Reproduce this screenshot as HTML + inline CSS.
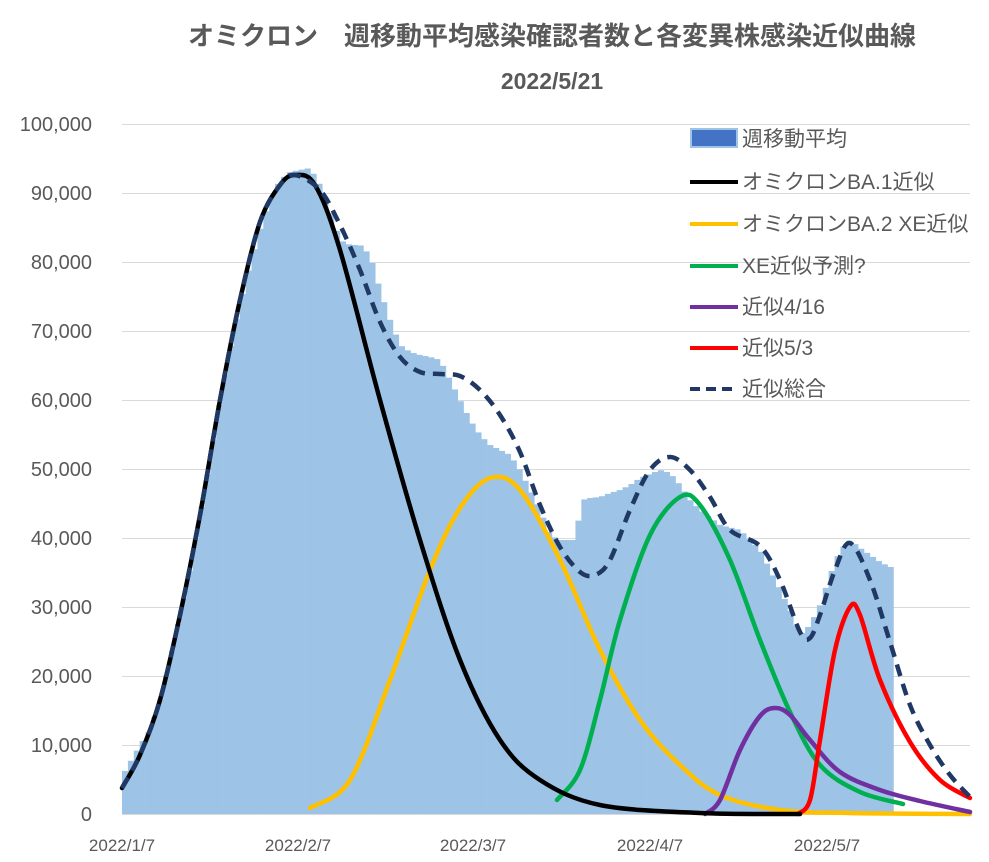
<!DOCTYPE html>
<html><head><meta charset="utf-8"><style>
html,body{margin:0;padding:0;background:#fff;}
svg{display:block;font-family:"Liberation Sans","Noto Sans CJK JP",sans-serif;}
</style></head><body>
<svg id="s" width="989" height="862" viewBox="0 0 989 862" xmlns="http://www.w3.org/2000/svg">
<text x="552" y="45" text-anchor="middle" font-size="26" font-weight="bold" fill="#595959">オミクロン　週移動平均感染確認者数と各変異株感染近似曲線</text>
<text x="552" y="89" text-anchor="middle" font-size="23" font-weight="bold" fill="#595959">2022/5/21</text>
<g id="grid" stroke="#d9d9d9" stroke-width="1"></g>
<g id="ylab" font-size="20" fill="#595959" text-anchor="end"></g>
<g id="bars" fill="#9dc3e6"></g>
<line x1="122" y1="814.5" x2="970" y2="814.5" stroke="#d9d9d9"/>
<g id="curves" fill="none" stroke-linejoin="round" stroke-linecap="round"></g>
<g font-size="17" fill="#595959" text-anchor="middle">
<text x="122" y="851">2022/1/7</text><text x="298" y="851">2022/2/7</text><text x="473" y="851">2022/3/7</text><text x="650" y="851">2022/4/7</text><text x="827" y="851">2022/5/7</text>
</g>
<g font-size="21" fill="#595959">
<rect x="690" y="128" width="48" height="20" fill="#9dc3e6"/><rect x="692" y="130" width="44" height="16" fill="#4472c4"/>
<text x="742" y="146">週移動平均</text>
<line x1="690" y1="182" x2="738" y2="182" stroke="#000" stroke-width="4"/><text x="742" y="189">オミクロンBA.1近似</text>
<line x1="690" y1="224" x2="738" y2="224" stroke="#ffc000" stroke-width="4"/><text x="742" y="231">オミクロンBA.2 XE近似</text>
<line x1="690" y1="266" x2="738" y2="266" stroke="#00b050" stroke-width="4"/><text x="742" y="273">XE近似予測?</text>
<line x1="690" y1="307" x2="738" y2="307" stroke="#7030a0" stroke-width="4"/><text x="742" y="314">近似4/16</text>
<line x1="690" y1="348" x2="738" y2="348" stroke="#ff0000" stroke-width="4"/><text x="742" y="355">近似5/3</text>
<line x1="690" y1="389" x2="738" y2="389" stroke="#203864" stroke-width="4" stroke-dasharray="10,6"/><text x="742" y="396">近似総合</text>
</g>
</svg>
<script>
var NS="http://www.w3.org/2000/svg";
function el(p,t,a){var e=document.createElementNS(NS,t);for(var k in a)e.setAttribute(k,a[k]);document.getElementById(p).appendChild(e);return e;}
for(var i=0;i<=10;i++){var y=814-i*69;if(i>0)el("grid","line",{x1:122,x2:970,y1:y+.5,y2:y+.5});
var t=el("ylab","text",{x:92,y:y+7});t.textContent=i==0?"0":(i*10)+",000";}
function interp(pts,x){for(var i=0;i<pts.length-1;i++){if(x>=pts[i][0]&&x<=pts[i+1][0]){var f=(x-pts[i][0])/(pts[i+1][0]-pts[i][0]);return pts[i][1]+f*(pts[i+1][1]-pts[i][1]);}}return pts[pts.length-1][1];}
var B=[[122,776],[140,745],[150,730],[160,700],[170,660],[180,615],[190,570],[200,515],[210,460],[220,400],[230,350],[240,305],[250,265],[260,230],[270,200],[280,180],[290,172],[300,170],[310,168],[320,185],[330,210],[340,240],[350,245],[360,245],[370,255],[380,290],[390,320],[400,345],[410,352],[420,355],[430,357],[440,360],[450,380],[460,400],[470,420],[480,435],[490,445],[500,450],[510,455],[520,470],[530,490],[540,510],[550,535],[560,540],[575,540],[582,500],[590,498],[600,497],[610,493],[620,490],[630,485],[640,478],[660,470],[670,473],[680,485],[690,500],[700,510],[720,525],[740,530],[760,550],[770,570],[780,590],[790,610],[800,635],[810,625],[820,605],[830,575],[840,550],[850,540],[860,548],[870,555],[880,562],[890,567],[895,567]];
var w=848/144;
for(var d=0;d<131;d++){var x=122+d*w;var y=interp(B,x+w/2);el("bars","rect",{x:x,y:y,width:w+0.3,height:814-y});}
function path(pts){var s="M"+pts[0][0]+","+pts[0][1];for(var i=0;i<pts.length-1;i++){var p0=pts[i-1]||pts[i],p1=pts[i],p2=pts[i+1],p3=pts[i+2]||p2;
s+=" C"+(p1[0]+(p2[0]-p0[0])/6)+","+(p1[1]+(p2[1]-p0[1])/6)+" "+(p2[0]-(p3[0]-p1[0])/6)+","+(p2[1]-(p3[1]-p1[1])/6)+" "+p2[0]+","+p2[1];}return s;}
var C=[
["#ffc000",[[310,808],[350,780],[390,680],[430,570],[460,508],[490,478],[520,490],[560,560],[600,650],[640,720],[680,765],[720,795],[780,810],[850,813],[970,814]]],
["#00b050",[[557,800],[580,770],[600,700],[620,620],[650,535],[680,497],[700,505],[730,560],[760,640],[790,712],[820,765],[860,792],[903,804]]],
["#7030a0",[[705,814],[720,800],[740,750],[760,716],[775,708],[790,715],[810,740],[840,772],[880,790],[920,801],[970,812]]],
["#ff0000",[[798,814],[810,800],[820,740],[835,650],[850,607],[860,615],[880,680],[910,742],[940,780],[970,798]]],
["#000000",[[122,788],[140,755],[160,700],[180,615],[200,515],[220,400],[240,300],[260,222],[280,185],[295,175],[315,185],[340,250],[380,400],[420,540],[460,660],[500,740],[540,780],[600,805],[700,813],[800,814]]]
];
C.forEach(function(c){el("curves","path",{d:path(c[1]),stroke:c[0],"stroke-width":4.5});});
var D=[[122,788],[140,755],[160,700],[180,615],[200,515],[220,400],[240,300],[260,222],[280,185],[295,175],[320,190],[340,225],[360,270],[380,322],[400,357],[420,372],[440,374],[460,376],[480,390],[500,415],[520,452],[540,505],[560,547],[580,572],[595,575],[610,560],[630,510],[650,470],[670,457],[690,470],[710,497],[730,530],[760,546],[780,580],[800,632],[810,638],[820,615],[835,570],[850,543],[870,580],[890,642],[910,705],[930,745],[950,775],[970,797]];
el("curves","path",{d:path(D),stroke:"#203864","stroke-width":4.5,"stroke-dasharray":"12,8","stroke-linecap":"butt"});
</script>
</body></html>
